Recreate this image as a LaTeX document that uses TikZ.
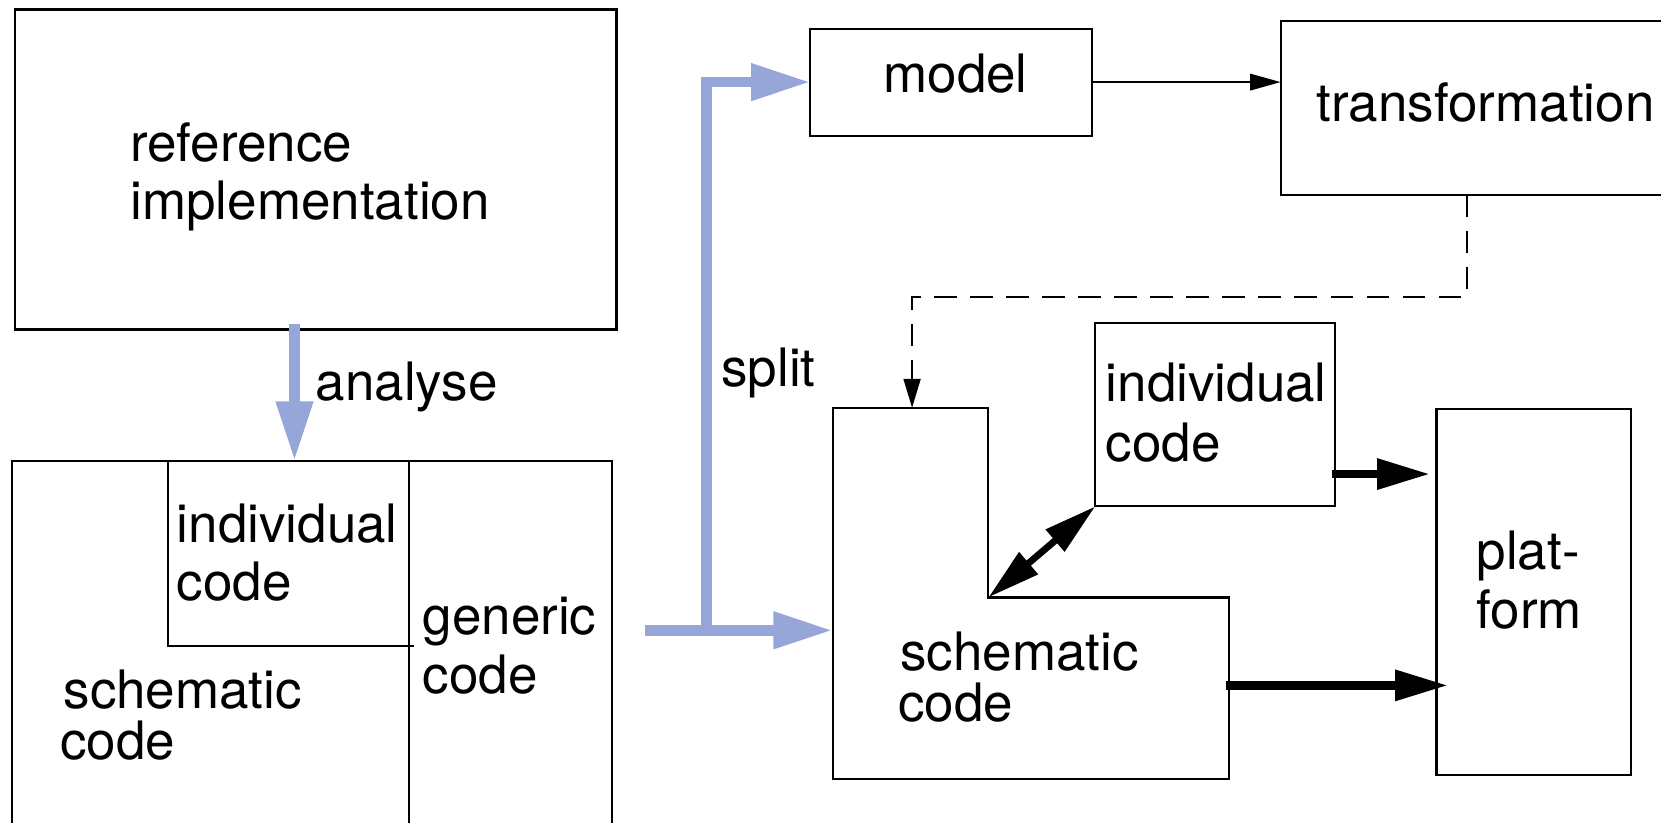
\documentclass[tikz,border=0pt]{standalone}
\usepackage{fontspec}
\setmainfont{TeX Gyre Heros}
\usetikzlibrary{arrows.meta}
\definecolor{splitblue}{RGB}{151,166,216}
\begin{document}
\begin{tikzpicture}[x=0.5pt,y=-0.5pt,
  box/.style={draw=black, line width=1pt, inner sep=0pt, outer sep=0pt, anchor=north west},
  lbl/.style={anchor=base west, inner sep=0pt, outer sep=0pt, font=\fontsize{25pt}{27.5pt}\selectfont},
  bluearrow/.style={draw=splitblue, line width=5pt, line join=miter, -{Triangle[length=28pt,width=16.5pt]}},
  thinarrow/.style={line width=1pt, -{Triangle[length=14.5pt,width=7.8pt]}},
  dasharrow/.style={line width=1pt, dash pattern=on 10.5pt off 6.5pt, -{Triangle[length=13.7pt,width=8pt]}},
  thickarrow/.style={line width=4pt, -{Triangle[length=25pt,width=13.8pt]}},
  dblarrow/.style={line width=3.2pt, {Triangle[length=25pt,width=13pt]}-{Triangle[length=25pt,width=13pt]}},
]
\useasboundingbox (0,0) rectangle (1568,776);
\clip (0,0) rectangle (1568,776);

% left column
\node[box, minimum width=284pt, minimum height=151pt] (ref) at (14,9) {};
\node[lbl] (tref1) at (123,152) {reference};
\node[lbl] (tref2) at (123,207) {implementation};

\node[box, minimum width=283.5pt, minimum height=200pt] (bigL) at (11,435) {};
\node[box, minimum width=113.5pt, minimum height=87.5pt] (indL) at (159,435) {};
\node[box, minimum width=96pt, minimum height=200pt] (genL) at (386,435) {};
\draw[line width=1pt] (indL.south east) -- ++(5,0);

\node[lbl] (tindL1) at (167,512) {individual};
\node[lbl] (tindL2) at (167,567) {code};
\node[lbl] (tgen1) at (399,599) {generic};
\node[lbl] (tgen2) at (399,655) {code};
\node[lbl] (tschL1) at (60,669) {schematic};
\node[lbl] (tschL2) at (57,717) {code};

% analyse arrow
\coordinate (a0) at (278,306);
\draw[bluearrow] (a0) -- (a0 |- bigL.north);
\node[lbl] (tana) at (298,378) {analyse};

% right part
\node[box, minimum width=133pt, minimum height=50.5pt] (model) at (765,27) {};
\node[lbl] (tmodel) at (834,87) {model};
\node[box, minimum width=250pt, minimum height=82pt] (trans) at (1209,20) {};
\node[lbl] (ttrans) at (1243,115) {transformation};

\node[box, minimum width=113pt, minimum height=86.5pt] (indR) at (1034,305) {};
\node[lbl] (tindR1) at (1044,379) {individual};
\node[lbl] (tindR2) at (1044,436) {code};

\node[box, minimum width=92pt, minimum height=173pt] (plat) at (1356,386) {};
\node[lbl] (tplat1) at (1394,538) {plat-};
\node[lbl] (tplat2) at (1394,593) {form};

% schematic L-shape
\coordinate (Ltl) at (786,385);
\coordinate (Ltop) at (861,385);
\coordinate (Ltr) at (933,385);
\coordinate (Lnotch) at (933,564);
\coordinate (Lr) at (1160,564);
\coordinate (Lbr) at (1160,735);
\coordinate (Lbl) at (786,735);
\coordinate (Lin) at (786,595);
\draw[line width=1pt] (Ltl) -- (Ltr) -- (Lnotch) -- (Lr) -- (Lbr) -- (Lbl) -- cycle;
\node[lbl] (tschR1) at (850,633) {schematic};
\node[lbl] (tschR2) at (848,681) {code};

% split arrows
\coordinate (s0) at (609,595);
\coordinate (sb) at (667,600);
\draw[bluearrow] (s0) -- (Lin);
\draw[bluearrow] (sb) |- (model.west);
\node[lbl] (tsplit) at (681,365) {split};

% model -> transformation
\draw[thinarrow] (model.east) -- (model.east -| trans.west);

% transformation -> schematic (dashed)
\coordinate (d0) at (1385,184);
\draw[dasharrow] (d0) -- ++(0,96) -| (Ltop);

% individual <-> schematic
\draw[dblarrow] (Lnotch) -- (indR.south west);

% to platform
\coordinate (p1s) at (1257,447.5);
\coordinate (p1e) at (1350,447.5);
\draw[thickarrow] (p1s) -- (p1e);
\coordinate (p2s) at (1157,647);
\coordinate (p2e) at (1367,647);
\draw[thickarrow] (p2s) -- (p2e);
\end{tikzpicture}
\end{document}
